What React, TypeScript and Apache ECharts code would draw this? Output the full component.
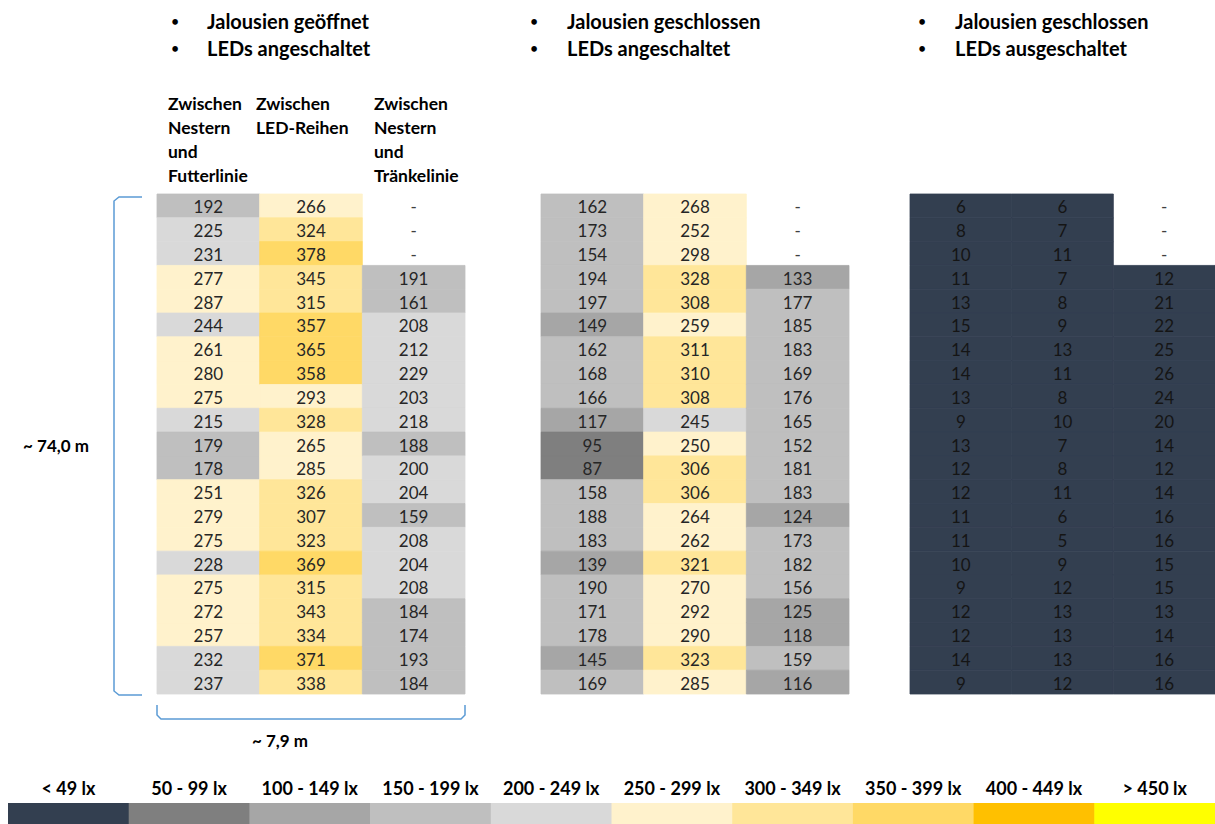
import React, { useEffect, useRef } from 'react';
import * as echarts from 'echarts';

// ---------- data ----------
const ROW_COUNT = 21;
const rowIds = Array.from({ length: ROW_COUNT }, (_, i) => String(i + 1));
const columnIds = ['Futterlinie', 'LED-Reihen', 'Tränkelinie'];

const columnHeaders = [
  'Zwischen\nNestern\nund\nFutterlinie',
  'Zwischen\nLED-Reihen',
  'Zwischen\nNestern\nund\nTränkelinie',
];

const panelTitles = [
  ['Jalousien geöffnet', 'LEDs angeschaltet'],
  ['Jalousien geschlossen', 'LEDs angeschaltet'],
  ['Jalousien geschlossen', 'LEDs ausgeschaltet'],
];

// Panel 1: Jalousien geöffnet, LEDs an
const p1Futter = [192, 225, 231, 277, 287, 244, 261, 280, 275, 215, 179, 178, 251, 279, 275, 228, 275, 272, 257, 232, 237];
const p1LED = [266, 324, 378, 345, 315, 357, 365, 358, 293, 328, 265, 285, 326, 307, 323, 369, 315, 343, 334, 371, 338];
const p1Traenke = [null, null, null, 191, 161, 208, 212, 229, 203, 218, 188, 200, 204, 159, 208, 204, 208, 184, 174, 193, 184];

// Panel 2: Jalousien geschlossen, LEDs an
const p2Futter = [162, 173, 154, 194, 197, 149, 162, 168, 166, 117, 95, 87, 158, 188, 183, 139, 190, 171, 178, 145, 169];
const p2LED = [268, 252, 298, 328, 308, 259, 311, 310, 308, 245, 250, 306, 306, 264, 262, 321, 270, 292, 290, 323, 285];
const p2Traenke = [null, null, null, 133, 177, 185, 183, 169, 176, 165, 152, 181, 183, 124, 173, 182, 156, 125, 118, 159, 116];

// Panel 3: Jalousien geschlossen, LEDs aus
const p3Futter = [6, 8, 10, 11, 13, 15, 14, 14, 13, 9, 13, 12, 12, 11, 11, 10, 9, 12, 12, 14, 9];
const p3LED = [6, 7, 11, 7, 8, 9, 13, 11, 8, 10, 7, 8, 11, 6, 5, 9, 12, 13, 13, 13, 12];
const p3Traenke = [null, null, null, 12, 21, 22, 25, 26, 24, 20, 14, 12, 14, 16, 16, 15, 15, 13, 14, 16, 16];

const legendLabels = ['< 49 lx', '50 - 99 lx', '100 - 149 lx', '150 - 199 lx', '200 - 249 lx', '250 - 299 lx', '300 - 349 lx', '350 - 399 lx', '400 - 449 lx', '> 450 lx'];
const legendColors = ['#333f50', '#7f7f7f', '#a6a6a6', '#bfbfbf', '#d9d9d9', '#fff2cc', '#ffe699', '#ffd966', '#ffc000', '#ffff00'];
const binSize = 50;

const panels = [
  [p1Futter, p1LED, p1Traenke],
  [p2Futter, p2LED, p2Traenke],
  [p3Futter, p3LED, p3Traenke],
];

// ---------- helpers ----------
const colorFor = (v: number) => legendColors[Math.min(legendColors.length - 1, Math.floor(v / binSize))];

const FONT = 'Lato, "Open Sans", sans-serif';

function cellRender(textColor: string) {
  return (params: any, api: any) => {
    const v = api.value(2);
    const c = api.coord([api.value(0), api.value(1)]);
    const s = api.size([1, 1]);
    const missing = v < 0;
    const children: any[] = [];
    if (!missing) {
      const col = colorFor(v);
      children.push({
        type: 'rect',
        shape: { x: c[0] - s[0] / 2, y: c[1] - s[1] / 2, width: s[0], height: s[1] },
        style: { fill: col, stroke: col, lineWidth: 0.8 },
      });
    }
    children.push({
      type: 'text',
      style: {
        text: missing ? '-' : String(v),
        x: c[0],
        y: c[1] + 1,
        align: 'center',
        verticalAlign: 'middle',
        fill: missing ? '#404040' : textColor,
        fontSize: 17,
        fontFamily: FONT,
      },
    });
    return { type: 'group', children };
  };
}

export default function App() {
  const ref = useRef<HTMLDivElement>(null);

  useEffect(() => {
    if (!ref.current) return;
    const chart = echarts.init(ref.current, null, { renderer: 'svg' });

    const panelGrids = [
      { left: 157, top: 194, width: 308, height: 500 },
      { left: 541, top: 194, width: 308, height: 500 },
      { left: 910, top: 194, width: 306, height: 500 },
    ];
    const legendGrid = { left: 8, top: 803, width: 1207, height: 21 };

    const grid: any[] = [...panelGrids, legendGrid];
    const xAxis: any[] = [];
    const yAxis: any[] = [];
    const series: any[] = [];

    panels.forEach((cols, pi) => {
      xAxis.push({ type: 'category', gridIndex: pi, data: columnIds, show: false });
      yAxis.push({ type: 'category', gridIndex: pi, data: rowIds, inverse: true, show: false });
      const data: any[] = [];
      cols.forEach((arr, ci) => {
        arr.forEach((v, ri) => data.push([ci, ri, v == null ? -1 : v]));
      });
      series.push({
        type: 'custom',
        xAxisIndex: pi,
        yAxisIndex: pi,
        data,
        encode: { x: 0, y: 1 },
        renderItem: cellRender(pi === 2 ? '#151515' : '#262626'),
        silent: true,
      });
    });

    // legend strip
    xAxis.push({
      type: 'category',
      gridIndex: 3,
      data: legendLabels,
      position: 'top',
      axisLine: { show: false },
      axisTick: { show: false },
      axisLabel: { interval: 0, margin: 6, color: '#000', fontSize: 18, fontWeight: 'bold', fontFamily: FONT },
    });
    yAxis.push({ type: 'category', gridIndex: 3, data: [''], show: false });
    series.push({
      type: 'custom',
      xAxisIndex: 3,
      yAxisIndex: 3,
      data: legendColors.map((_, i) => [i, 0]),
      encode: { x: 0, y: 1 },
      silent: true,
      renderItem: (params: any, api: any) => {
        const c = api.coord([api.value(0), api.value(1)]);
        const s = api.size([1, 1]);
        return {
          type: 'rect',
          shape: { x: c[0] - s[0] / 2, y: c[1] - s[1] / 2, width: s[0] + 0.6, height: s[1] },
          style: { fill: legendColors[params.dataIndex] },
        };
      },
    });

    // titles and annotations
    const titlePos = [
      { bx: 175, tx: 207 },
      { bx: 534, tx: 567 },
      { bx: 922, tx: 955 },
    ];
    const graphic: any[] = [];
    panelTitles.forEach((lines, i) => {
      lines.forEach((t, li) => {
        const y = 21 + li * 27;
        graphic.push({
          type: 'text',
          style: { text: '•', x: titlePos[i].bx, y, align: 'center', verticalAlign: 'middle', fill: '#000', fontSize: 15, fontFamily: FONT },
        });
        graphic.push({
          type: 'text',
          style: { text: t, x: titlePos[i].tx, y, align: 'left', verticalAlign: 'middle', fill: '#000', fontSize: 20, fontWeight: 'bold', fontFamily: FONT },
        });
      });
    });
    const headerX = [168, 256, 374];
    columnHeaders.forEach((h, i) => {
      graphic.push({
        type: 'text',
        style: { text: h, x: headerX[i], y: 91, align: 'left', verticalAlign: 'top', lineHeight: 24, fill: '#000', fontSize: 17.5, fontWeight: 'bold', fontFamily: FONT },
      });
    });
    // vertical bracket
    graphic.push({
      type: 'polyline',
      shape: { points: [[142, 197], [119, 197], [114, 201], [114, 691], [119, 695], [142, 695]] },
      style: { stroke: '#5b9bd5', lineWidth: 1.5, fill: 'none' },
    });
    graphic.push({
      type: 'text',
      style: { text: '~ 74,0 m', x: 56, y: 445, align: 'center', verticalAlign: 'middle', fill: '#000', fontSize: 17, fontWeight: 'bold', fontFamily: FONT },
    });
    // horizontal bracket
    graphic.push({
      type: 'polyline',
      shape: { points: [[157, 705], [157, 715], [161, 719], [461, 719], [465, 715], [465, 705]] },
      style: { stroke: '#5b9bd5', lineWidth: 1.5, fill: 'none' },
    });
    graphic.push({
      type: 'text',
      style: { text: '~ 7,9 m', x: 280, y: 740, align: 'center', verticalAlign: 'middle', fill: '#000', fontSize: 17, fontWeight: 'bold', fontFamily: FONT },
    });

    chart.setOption({
      animation: false,
      backgroundColor: '#ffffff',
      grid,
      xAxis,
      yAxis,
      series,
      graphic,
    });

    return () => chart.dispose();
  }, []);

  return <div ref={ref} style={{ position: 'fixed', left: 0, top: 0, width: 1215, height: 824 }} />;
}
